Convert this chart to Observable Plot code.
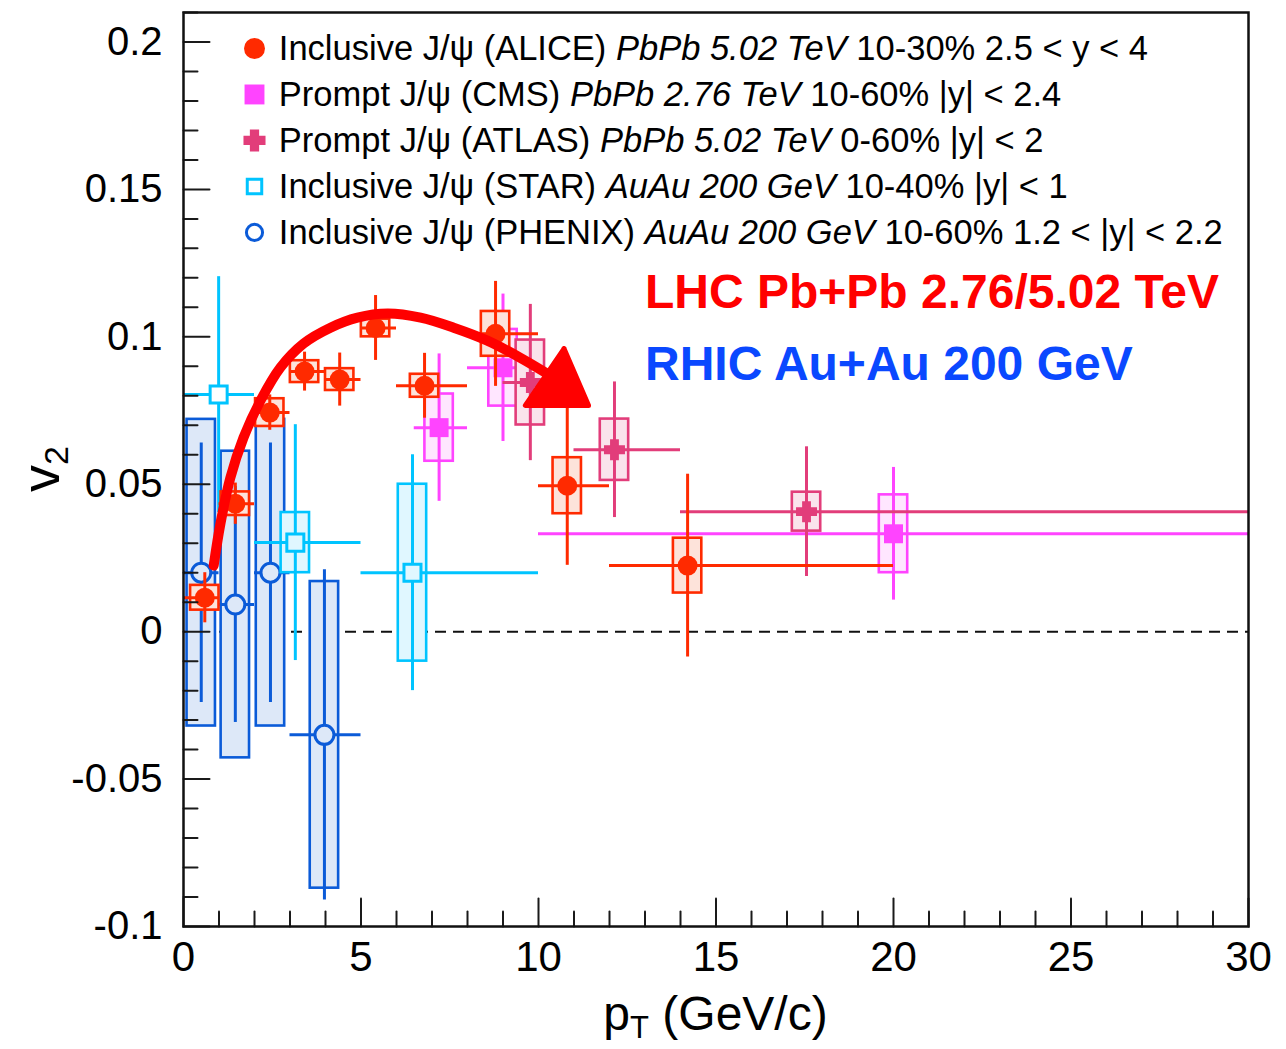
<!DOCTYPE html>
<html>
<head>
<meta charset="utf-8">
<script src="https://cdn.jsdelivr.net/npm/d3@7"></script>
<script src="https://cdn.jsdelivr.net/npm/@observablehq/plot@0.6"></script>
<style>
  html, body { margin: 0; padding: 0; background: #fff; }
  #chart svg { display: block; }
</style>
</head>
<body>
<div id="chart"></div>
<script>
// ---- J/psi elliptic flow v2 vs pT ----
// Each series: mean pT, v2, statistical error, systematic error, pT bin edges.

// ALICE inclusive J/psi, Pb-Pb 5.02 TeV, 10-30%, 2.5 < y < 4
const alicePt   = [0.60, 1.46, 2.43, 3.41, 4.40, 5.41, 6.79, 8.79, 10.81, 14.2];
const aliceV2   = [0.0115, 0.0434, 0.0743, 0.0882, 0.0855, 0.1030, 0.0834, 0.1010, 0.0495, 0.0224];
const aliceStat = [0.0085, 0.0070, 0.0060, 0.0066, 0.0090, 0.0110, 0.0110, 0.0178, 0.0270, 0.0310];
const aliceSyst = [0.0042, 0.0040, 0.0047, 0.0037, 0.0037, 0.0030, 0.0039, 0.0076, 0.0095, 0.0093];
const aliceLo   = [0, 1, 2, 3, 4, 5, 6, 8, 10, 12];
const aliceHi   = [1, 2, 3, 4, 5, 6, 8, 10, 12, 20];

// CMS prompt J/psi, Pb-Pb 2.76 TeV, 10-60%, |y| < 2.4
const cmsPt   = [7.20, 9.00, 20.0];
const cmsV2   = [0.0692, 0.0895, 0.0332];
const cmsStat = [0.0250, 0.0250, 0.0225];
const cmsSyst = [0.0114, 0.0130, 0.0132];
const cmsLo   = [6.5, 8, 10];
const cmsHi   = [8, 10, 30];

// ATLAS prompt J/psi, Pb-Pb 5.02 TeV, 0-60%, |y| < 2
const atlasPt   = [9.77, 12.14, 17.55];
const atlasV2   = [0.0845, 0.0617, 0.0407];
const atlasStat = [0.0265, 0.0230, 0.0220];
const atlasSyst = [0.0144, 0.0104, 0.0066];
const atlasLo   = [9, 11, 14];
const atlasHi   = [11, 14, 30];

// STAR inclusive J/psi, Au-Au 200 GeV, 10-40%, |y| < 1
const starPt   = [0.99, 3.15, 6.45];
const starV2   = [0.0804, 0.0302, 0.0200];
const starStat = [0.0400, 0.0400, 0.0400];
const starSyst = [0, 0.0102, 0.0300];
const starLo   = [0, 2, 5];
const starHi   = [2, 5, 10];

// PHENIX inclusive J/psi, Au-Au 200 GeV, 10-60%, 1.2 < |y| < 2.2
const phenixPt   = [0.50, 1.46, 2.45, 3.97];
const phenixV2   = [0.0200, 0.0092, 0.0200, -0.0350];
const phenixStat = [0.0440, 0.0400, 0.0440, 0.0560];
const phenixSyst = [0.0520, 0.0520, 0.0520, 0.0520];
const phenixLo   = [0, 1, 2, 3];
const phenixHi   = [1, 2, 3, 5];

// Legend texts
const legendNames = ["Inclusive J/\u03C8 (ALICE) ", "Prompt J/\u03C8 (CMS) ", "Prompt J/\u03C8 (ATLAS) ", "Inclusive J/\u03C8 (STAR) ", "Inclusive J/\u03C8 (PHENIX) "];
const legendBeams = ["PbPb 5.02 TeV", "PbPb 2.76 TeV", "PbPb 5.02 TeV", "AuAu 200 GeV", "AuAu 200 GeV"];
const legendCuts  = [" 10-30% 2.5 < y < 4", " 10-60% |y| < 2.4", " 0-60% |y| < 2", " 10-40% |y| < 1", " 10-60% 1.2 < |y| < 2.2"];

// Annotations
const noteTexts  = ["LHC Pb+Pb 2.76/5.02 TeV", "RHIC Au+Au 200 GeV"];
const noteColors = ["#ff0000", "#0a48ff"];
const notePt     = [13.0, 13.0];
const noteV2     = [0.1150, 0.0906];

// Hand-drawn trend arrow (pT, v2) and its head
const arrowPt = [0.85, 1.04, 1.32, 1.69, 2.17, 2.73, 3.38, 4.14, 4.90, 5.75, 6.68, 7.61, 8.56, 9.49, 10.25];
const arrowV2 = [0.0224, 0.0366, 0.0522, 0.0658, 0.0784, 0.0896, 0.0977, 0.1031, 0.1065, 0.1079, 0.1065, 0.1031, 0.0987, 0.0929, 0.0875];
const headPt  = [10.72, 9.63, 11.41, 10.72];
const headV2  = [0.0960, 0.0767, 0.0767, 0.0960];

// Axis ticks
const xMajor = [0, 5, 10, 15, 20, 25, 30];
const xMinor = d3.range(0, 31, 1).filter(v => v % 5 !== 0);
const yMajor = [-0.1, -0.05, 0, 0.05, 0.1, 0.15, 0.2];
const yMinor = d3.range(-10, 22, 1).map(v => v / 100).filter(v => Math.round(v * 100) % 5 !== 0);

const FONT = "'Liberation Sans', Arial, Helvetica, sans-serif";

const rows = (pt, v2, stat, syst, lo, hi) =>
  pt.map((x, i) => ({x, v2: v2[i], stat: stat[i], syst: syst[i], lo: lo[i], hi: hi[i]}));

const alice  = rows(alicePt, aliceV2, aliceStat, aliceSyst, aliceLo, aliceHi);
const cms    = rows(cmsPt, cmsV2, cmsStat, cmsSyst, cmsLo, cmsHi);
const atlas  = rows(atlasPt, atlasV2, atlasStat, atlasSyst, atlasLo, atlasHi);
const star   = rows(starPt, starV2, starStat, starSyst, starLo, starHi);
const phenix = rows(phenixPt, phenixV2, phenixStat, phenixSyst, phenixLo, phenixHi);

// Filled cross marker (ROOT style 34)
const fatCross = {
  draw(ctx, size) {
    const r = Math.sqrt(size / Math.PI), t = r * 0.42;
    ctx.moveTo(-t, -r); ctx.lineTo(t, -r); ctx.lineTo(t, -t); ctx.lineTo(r, -t);
    ctx.lineTo(r, t); ctx.lineTo(t, t); ctx.lineTo(t, r); ctx.lineTo(-t, r);
    ctx.lineTo(-t, t); ctx.lineTo(-r, t); ctx.lineTo(-r, -t); ctx.lineTo(-t, -t);
    ctx.closePath();
  }
};

// Styles per experiment
const styles = {
  alice:  {color: "#ff2a00", boxFill: "#fde3da", symbol: "circle", r: 10,   filled: true},
  cms:    {color: "#ff44ff", boxFill: "#ffe6ff", symbol: "square", r: 10.7, filled: true},
  atlas:  {color: "#e23d7a", boxFill: "#fae3ec", symbol: fatCross, r: 10.5, filled: true},
  star:   {color: "#00c4ff", boxFill: "#e0f7ff", symbol: "square", r: 9.6,  filled: false},
  phenix: {color: "#0b5bd8", boxFill: "#dde8f8", symbol: "circle", r: 9.5,  filled: false}
};

const BOX = 0.4; // half-width of systematic boxes in pT

function marker(data, s, fill) {
  return Plot.dot(data, {
    x: "x", y: "v2", symbol: s.symbol, r: s.r,
    fill: s.filled ? s.color : fill,
    stroke: s.color, strokeWidth: s.filled ? 0 : 3
  });
}

function series(data, s) {
  const withBox = data.filter(d => d.syst > 0);
  const noBox = data.filter(d => !(d.syst > 0));
  return [
    Plot.rect(withBox, {
      x1: d => d.x - BOX, x2: d => d.x + BOX,
      y1: d => d.v2 - d.syst, y2: d => d.v2 + d.syst,
      fill: s.boxFill, stroke: s.color, strokeWidth: 2.6
    }),
    Plot.ruleY(data, {y: "v2", x1: "lo", x2: "hi", stroke: s.color, strokeWidth: 3}),
    Plot.ruleX(data, {x: "x", y1: d => d.v2 - d.stat, y2: d => d.v2 + d.stat, stroke: s.color, strokeWidth: 3}),
    marker(withBox, s, s.boxFill),
    marker(noBox, s, "white")
  ];
}

// Legend rows
const legendKeys = ["alice", "cms", "atlas", "star", "phenix"];
const legendMarkerPt = 2.0, legendTextPt = 2.7, legendTop = 0.1978, legendStep = 0.0156;
const legendRows = legendKeys.map((k, i) => ({k, i, x: legendMarkerPt, v2: legendTop - i * legendStep}));

const tickShape = {draw(ctx, l) { ctx.moveTo(0, 0); ctx.lineTo(0, -l); }};
const tickStyle = {anchor: "start", shape: tickShape, stroke: "#1a1a1a", strokeWidth: 2};

const arrow = arrowPt.map((x, i) => ({x, v2: arrowV2[i]}));
const head = headPt.map((x, i) => ({x, v2: headV2[i]}));
const notes = noteTexts.map((t, i) => ({t, c: noteColors[i], x: notePt[i], v2: noteV2[i]}));

const chart = Plot.plot({
  width: 1286,
  height: 1049,
  marginLeft: 183,
  marginRight: 38,
  marginTop: 12,
  marginBottom: 123,
  style: {fontFamily: FONT, background: "#fff", color: "#000"},
  x: {domain: [0, 30], label: null},
  y: {domain: [-0.1, 0.21], label: null},
  marks: [
    Plot.ruleY([0], {stroke: "#111", strokeWidth: 2, strokeDasharray: "11,7"}),
    ...series(phenix, styles.phenix),
    ...series(star, styles.star),
    ...series(cms, styles.cms),
    ...series(atlas, styles.atlas),
    ...series(alice, styles.alice),
    // legend markers
    ...legendRows.map(d => Plot.dot([d], {
      x: "x", y: "v2", symbol: styles[d.k].symbol,
      r: styles[d.k].filled ? styles[d.k].r * 1.05 : styles[d.k].r * 0.85,
      fill: styles[d.k].filled ? styles[d.k].color : "white",
      stroke: styles[d.k].color, strokeWidth: styles[d.k].filled ? 0 : 3
    })),
    // annotations
    Plot.text(notes, {x: "x", y: "v2", text: "t", fill: "c", textAnchor: "start", lineAnchor: "middle",
      fontSize: 48, fontWeight: "bold"}),
    // trend arrow
    Plot.line(arrow, {x: "x", y: "v2", curve: "catmull-rom", stroke: "red", strokeWidth: 10,
      strokeLinecap: "round", strokeLinejoin: "round"}),
    Plot.line(head, {x: "x", y: "v2", fill: "red", stroke: "red", strokeWidth: 5,
      strokeLinejoin: "round"}),
    // ticks inside the frame
    Plot.vector(yMajor, {x: 0, y: d => d, length: 26, rotate: 90, ...tickStyle}),
    Plot.vector(yMinor, {x: 0, y: d => d, length: 14, rotate: 90, ...tickStyle}),
    Plot.vector(xMajor, {x: d => d, y: -0.1, length: 28, rotate: 0, ...tickStyle}),
    Plot.vector(xMinor, {x: d => d, y: -0.1, length: 15, rotate: 0, ...tickStyle}),
    // tick labels
    Plot.axisY({ticks: yMajor, tickSize: 0, tickPadding: 21, fontSize: 40, fill: "#000",
      tickFormat: d => String(+d.toFixed(2))}),
    Plot.axisX({ticks: xMajor, tickSize: 0, tickPadding: 15, fontSize: 42, fill: "#000",
      tickFormat: d => String(d)}),
    Plot.frame({stroke: "#111", strokeWidth: 2.5})
  ]
});

document.getElementById("chart").appendChild(chart);

// ---- text that needs mixed styles: legend, axis titles ----
const svg = d3.select(chart);
const sx = chart.scale("x"), sy = chart.scale("y");

// legend text
const legendText = svg.append("g").attr("font-family", FONT).attr("font-size", 34.5)
  .attr("text-anchor", "start").attr("fill", "#000").style("white-space", "pre");
legendRows.forEach((d, i) => {
  const t = legendText.append("text")
    .attr("x", sx.apply(legendTextPt))
    .attr("y", sy.apply(d.v2))
    .attr("dy", "0.36em");
  t.append("tspan").text(legendNames[i]);
  t.append("tspan").attr("font-style", "italic").text(legendBeams[i]);
  t.append("tspan").text(legendCuts[i]);
});

// x axis title: pT (GeV/c)
const xTitle = svg.append("text")
  .attr("x", sx.apply(15)).attr("y", sy.apply(-0.1) + 104)
  .attr("text-anchor", "middle").attr("font-family", FONT).attr("font-size", 48)
  .attr("fill", "#000").style("white-space", "pre");
xTitle.append("tspan").text("p");
xTitle.append("tspan").attr("font-size", 31).attr("dy", 8).text("T");
xTitle.append("tspan").attr("dy", -8).text(" (GeV/c)");

// y axis title: v2
const yx = sx.apply(0) - 124, yy = sy.apply(0.055);
const yTitle = svg.append("text")
  .attr("transform", `translate(${yx},${yy}) rotate(-90)`)
  .attr("text-anchor", "middle").attr("font-family", FONT).attr("font-size", 54)
  .attr("fill", "#000");
yTitle.append("tspan").text("v");
yTitle.append("tspan").attr("font-size", 34).attr("dy", 9).text("2");
</script>
</body>
</html>
